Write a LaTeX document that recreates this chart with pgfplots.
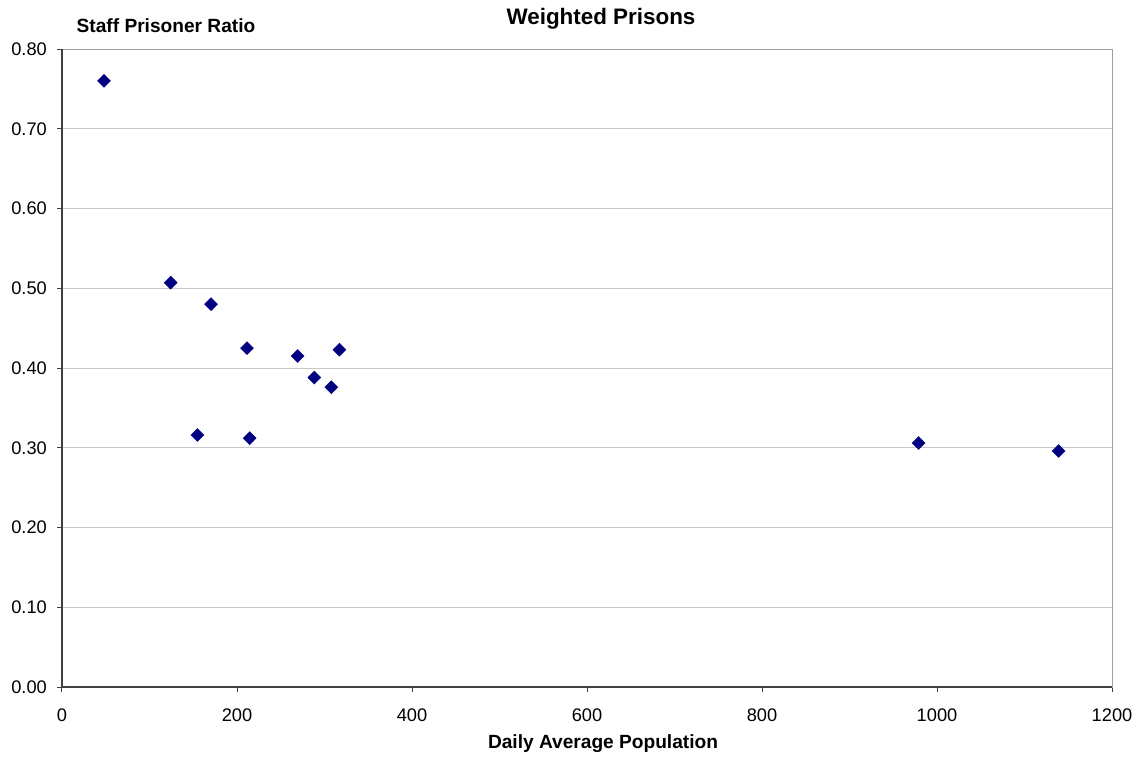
\documentclass[border=0pt]{standalone}
\usepackage{pgfplots}
\pgfplotsset{compat=1.18}
\usepackage{fontspec}
\setmainfont{Liberation Sans}
\definecolor{navy}{HTML}{000080}
\definecolor{gridc}{HTML}{C8C8C8}
\definecolor{boxc}{HTML}{A0A0A0}
\definecolor{axc}{HTML}{404040}
\begin{document}
\fontsize{18}{21}\selectfont
\begin{tikzpicture}
\path[use as bounding box] (-62bp,-71bp) rectangle (1084bp,687bp);
\begin{axis}[
  at={(0,0)}, anchor=south west,
  width=1050bp, height=638bp, scale only axis,
  xmin=0, xmax=1200, ymin=0, ymax=0.8,
  xtick={0,200,...,1200},
  ytick={0,0.1,...,0.8},
  tick pos=left,
  tick align=outside,
  major tick length=5bp,
  tick style={axc, line width=1bp},
  ymajorgrids,
  grid style={gridc, line width=1bp},
  axis line style={boxc, line width=1bp},
  /pgf/number format/assume math mode=true,
  /pgf/number format/1000 sep={},
  yticklabel={\pgfmathprintnumber[fixed,fixed zerofill,precision=2]{\tick}},
  ticklabel style={font=\fontsize{18.3}{21}\selectfont},
  xticklabel style={yshift=-11bp},
  yticklabel style={xshift=-4bp},
  clip=false,
]
\addplot[only marks, mark=square*, mark size=4.6bp, mark options={rotate=45, fill=navy, draw=navy}] coordinates {
(48,0.760)
(124.2,0.507)
(170.3,0.480)
(211.4,0.425)
(269.3,0.415)
(317,0.423)
(288.4,0.388)
(307.8,0.376)
(154.7,0.316)
(214.5,0.312)
(979,0.306)
(1139,0.296)
};
\draw[axc, line width=1.5bp] (rel axis cs:0,1) -- (rel axis cs:0,0) -- (rel axis cs:1,0);
\end{axis}
\node[anchor=base, font=\fontsize{22.5}{26}\selectfont\bfseries] at (539bp,662bp) {Weighted Prisons};
\node[anchor=base, font=\fontsize{19.2}{22}\selectfont\bfseries] at (104bp,654.7bp) {Staff Prisoner Ratio};
\node[anchor=base, font=\fontsize{19.2}{22}\selectfont\bfseries] at (541bp,-61bp) {Daily Average Population};
\end{tikzpicture}
\end{document}
